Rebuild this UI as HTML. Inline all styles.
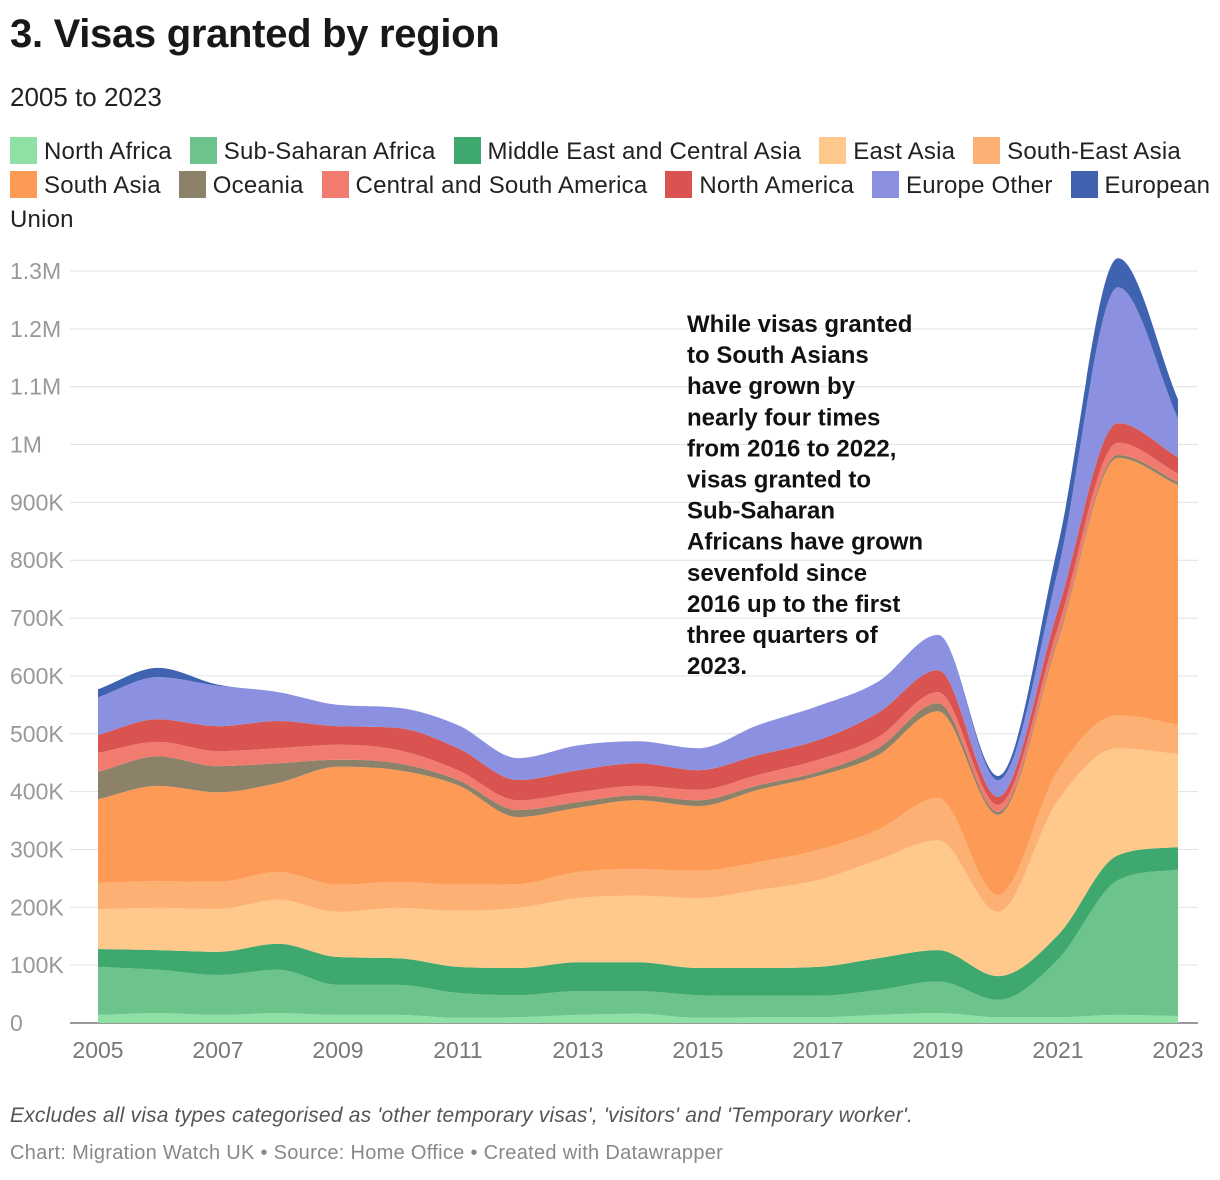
<!DOCTYPE html>
<html><head><meta charset="utf-8"><style>
body{margin:0;width:1220px;height:1180px;background:#fff;font-family:"Liberation Sans",Roboto,sans-serif;color:#181818;position:relative;overflow:hidden}
.t{position:absolute;left:10px;top:12px;font-size:40px;font-weight:bold;letter-spacing:-0.3px}
.s{position:absolute;left:10px;top:82px;font-size:26px;color:#222}
.lg{position:absolute;left:10px;top:135px;width:1205px;font-size:24px;line-height:34px;color:#222;letter-spacing:0.2px}
.li{display:inline-block;margin-right:18px;white-space:nowrap}
.sw{display:inline-block;width:27px;height:27px;vertical-align:-5px;margin-right:7px}
.n{position:absolute;left:10px;top:1104px;font-size:21px;font-style:italic;color:#555;letter-spacing:0.2px}
.c{position:absolute;left:10px;top:1142px;font-size:20px;color:#888;letter-spacing:0.3px}
svg{position:absolute;left:0;top:0}
</style></head><body>
<div class="t">3. Visas granted by region</div>
<div class="s">2005 to 2023</div>
<div class="lg" id="lg"></div>
<svg id="ch" width="1220" height="1180"></svg>
<div class="n">Excludes all visa types categorised as 'other temporary visas', 'visitors' and 'Temporary worker'.</div>
<div class="c">Chart: Migration Watch UK • Source: Home Office • Created with Datawrapper</div>
<script>
const years=[2005,2006,2007,2008,2009,2010,2011,2012,2013,2014,2015,2016,2017,2018,2019,2020,2021,2022,2023];
const seriesNames=["North Africa","Sub-Saharan Africa","Middle East and Central Asia","East Asia","South-East Asia","South Asia","Oceania","Central and South America","North America","Europe Other","European Union"];
const northAfrica=[14,17,14,17,14,14,9,10,14,16,9,10,10,14,17,10,10,14,12];
const subSaharan=[83,75,69,75,52,52,43,38,41,39,39,37,37,43,55,30,100,233,253];
const middleEast=[31,34,40,45,48,46,45,47,50,50,47,48,50,55,54,41,42,43,39];
const eastAsia=[69,73,74,76,78,87,97,104,111,115,121,135,150,170,190,111,233,185,161];
const seAsia=[45,46,47,48,47,45,45,41,45,46,47,48,52,52,73,29,52,57,51];
const southAsia=[145,165,155,154,204,193,172,116,111,119,112,125,128,129,150,139,225,445,414];
const oceania=[47,51,45,34,12,12,9,12,10,9,10,8,7,12,14,5,5,5,5];
const centralSouthAm=[33,25,26,26,26,23,17,17,17,16,18,18,21,19,19,12,17,21,15];
const northAm=[31,39,43,47,32,38,38,35,38,39,34,34,34,42,38,14,30,34,28];
const europeOther=[65,73,70,50,37,35,40,38,43,38,38,52,59,54,61,29,69,235,67];
const eu=[14,16,2,0,0,0,0,0,0,0,0,0,0,0,0,7,43,50,33];
const yTicks=[0,100,200,300,400,500,600,700,800,900,1000,1100,1200,1300];
const yTickLabels=["0","100K","200K","300K","400K","500K","600K","700K","800K","900K","1M","1.1M","1.2M","1.3M"];
const xTicks=[2005,2007,2009,2011,2013,2015,2017,2019,2021,2023];
const colors=["#8fe0a5","#6cc38b","#3fa86f","#fec98b","#fdb073","#fd9a56","#8c8169","#f27b70","#d95350","#8b91e0","#3f63b1"];
const data=[northAfrica,subSaharan,middleEast,eastAsia,seAsia,southAsia,oceania,centralSouthAm,northAm,europeOther,eu];
const X=y=>98+(y-2005)*60, Y=v=>1023-v*(752/1300);
const svg=document.getElementById('ch'),NS="http://www.w3.org/2000/svg";
function mk(t,a){const e=document.createElementNS(NS,t);for(const k in a)e.setAttribute(k,a[k]);svg.appendChild(e);return e;}
yTicks.forEach((v,i)=>{
 const l=mk('line',{x1:70,x2:1198,y1:Y(v),y2:Y(v),stroke:v?'#e2e2e2':'#333','stroke-width':1});
 
 
 const t=mk('text',{x:10,y:Y(v)+8,'font-size':23,fill:'#999'});t.textContent=yTickLabels[i];
 
 
});
xTicks.forEach(y=>{
 const t=mk('text',{x:X(y),y:1058,'font-size':23,fill:'#777','text-anchor':'middle'});t.textContent=y;
 
 
});
function mono(xs,ys){const n=xs.length,d=[],m=[];for(let i=0;i<n-1;i++)d.push((ys[i+1]-ys[i])/(xs[i+1]-xs[i]));
 m[0]=d[0];m[n-1]=d[n-2];for(let i=1;i<n-1;i++)m[i]=d[i-1]*d[i]<=0?0:(d[i-1]+d[i])/2;
 for(let i=0;i<n-1;i++){if(d[i]===0){m[i]=m[i+1]=0;continue;}const a=m[i]/d[i],b=m[i+1]/d[i],s=a*a+b*b;if(s>9){const t=3/Math.sqrt(s);m[i]=t*a*d[i];m[i+1]=t*b*d[i];}}
 return m;}
function seg(xs,ys,m,rev){let p='';const n=xs.length;
 if(!rev){for(let i=0;i<n-1;i++){const h=xs[i+1]-xs[i];p+=` C${xs[i]+h/3},${ys[i]+m[i]*h/3} ${xs[i+1]-h/3},${ys[i+1]-m[i+1]*h/3} ${xs[i+1]},${ys[i+1]}`;}}
 else{for(let i=n-1;i>0;i--){const h=xs[i]-xs[i-1];p+=` C${xs[i]-h/3},${ys[i]-m[i]*h/3} ${xs[i-1]+h/3},${ys[i-1]+m[i-1]*h/3} ${xs[i-1]},${ys[i-1]}`;}}
 return p;}
let base=years.map(()=>0);
const xs=years.map(X);
data.forEach((s,k)=>{
 const top=base.map((b,i)=>b+s[i]);
 const yt=top.map(Y),yb=base.map(Y);
 const mt=mono(xs,yt),mb=mono(xs,yb);
 const d=`M${xs[0]},${yb[0]} L${xs[0]},${yt[0]}`+seg(xs,yt,mt,false)+` L${xs[xs.length-1]},${yb[yb.length-1]}`+seg(xs,yb,mb,true)+'Z';
 const p=mk('path',{d,fill:colors[k]});
 
 
 base=top;
});
const ann=["While visas granted","to South Asians","have grown by","nearly four times","from 2016 to 2022,","visas granted to","Sub-Saharan","Africans have grown","sevenfold since","2016 up to the first","three quarters of","2023."];
const ta=mk('text',{x:687,'font-size':24,'font-weight':'bold',fill:'#111'});


ann.forEach((l,i)=>{const s=document.createElementNS(NS,'tspan');s.setAttribute('x',687);s.setAttribute('y',332+i*31.1);s.textContent=l;ta.appendChild(s);});
const lg=document.getElementById('lg');
seriesNames.forEach((n,k)=>{const d=document.createElement('span');d.className='li';
 
 
 if(k===10){d.style.whiteSpace='normal';d.style.display='inline';d.style.marginRight='0';}
 d.innerHTML=`<span class="sw" style="background:${colors[k]}"></span>${n}`;lg.appendChild(d);});
</script>
</body></html>
